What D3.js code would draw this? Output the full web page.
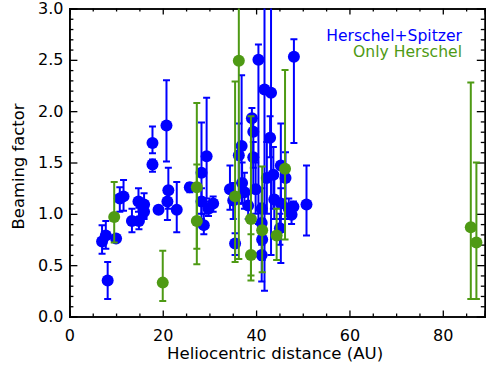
<!DOCTYPE html>
<html>
<head>
<meta charset="utf-8">
<script src="https://cdn.jsdelivr.net/npm/d3@7"></script>
<style>
  body { margin: 0; background: #fff; }
  text { font-family: "DejaVu Sans", sans-serif; }
</style>
</head>
<body>
<div id="chart"></div>
<script>
// datos: Herschel+Spitzer (blue)
const blueDist = [7.0, 7.8, 8.2, 10.0, 10.8, 11.6, 13.4, 14.9, 14.8, 16.0, 16.0, 17.8, 17.8, 19.1, 20.8, 21.2, 21.0, 23.0, 25.8, 28.3,
  29.4, 28.3, 29.8, 30.8, 28.8, 34.4, 35.5, 40.5, 41.8, 43.2, 48.1, 39.1, 39.4, 36.9, 36.3, 39.4, 43.0, 45.3, 46.3, 43.7,
  42.3, 37.0, 37.5, 39.9, 43.9, 50.8, 38.3, 48.0, 35.1, 41.2, 47.0, 47.6, 41.2, 41.3, 41.2, 45.1, 45.3]
const blueBeta = [0.73, 0.79, 0.35, 0.76, 1.15, 1.17, 0.93, 0.93, 1.12, 1.09, 1.02, 1.69, 1.48, 1.04, 1.86, 1.23, 1.12, 1.04, 1.26, 1.40,
  1.56, 1.12, 1.05, 1.10, 0.89, 1.24, 0.71, 2.50, 2.21, 2.18, 2.53, 1.93, 1.80, 1.66, 1.57, 1.55, 1.74, 1.47, 1.35, 1.38,
  1.35, 1.30, 1.21, 1.24, 1.14, 1.09, 1.08, 1.07, 1.13, 1.05, 1.05, 0.99, 0.91, 0.75, 0.60, 0.86, 1.10]
const blueLo = [0.61, 0.66, 0.17, 0.73, 1.02, 1.03, 0.82, 0.85, 1.02, 0.97, 0.95, 1.59, 1.41, 1.01, 1.51, 1.05, 0.94, 0.82, 1.21, 0.95,
  1.15, 1.00, 0.98, 1.02, 0.80, 1.04, 0.60, 0.90, 0.25, 0.60, 1.69, 1.80, 1.45, 1.10, 1.10, 1.25, 1.55, 0.52, 1.10, 1.05,
  1.00, 1.10, 1.05, 1.00, 0.95, 0.79, 0.95, 1.00, 0.95, 0.90, 0.95, 0.90, 0.70, 0.55, 0.34, 0.70, 0.95]
const blueHi = [0.89, 0.93, 0.53, 0.79, 1.26, 1.33, 1.05, 1.06, 1.25, 1.20, 1.08, 1.85, 1.53, 1.07, 2.30, 1.45, 1.25, 1.31, 1.30, 1.89,
  2.13, 1.25, 1.12, 1.17, 1.00, 1.47, 0.81, 2.65, 3.50, 3.50, 2.70, 2.03, 1.95, 2.35, 1.88, 1.70, 1.95, 1.88, 1.60, 1.65,
  1.70, 1.50, 1.40, 1.50, 1.35, 1.47, 1.20, 1.12, 1.30, 1.25, 1.15, 1.10, 1.10, 0.95, 0.85, 1.00, 1.25]

// datos: Only Herschel (green)
const greenDist = [9.6, 20.0, 27.3, 27.3, 36.3, 35.5, 38.9, 38.9, 41.3, 44.4, 46.2, 86.0, 87.2]
const greenBeta = [0.97, 0.33, 1.26, 0.93, 2.49, 1.17, 0.95, 0.60, 0.84, 0.79, 1.44, 0.87, 0.72]
const greenLo = [0.72, 0.15, 0.51, 0.66, 0.56, 0.53, 0.35, 0.40, 0.43, 0.55, 0.75, 0.17, 0.17]
const greenHi = [1.31, 0.64, 2.08, 1.48, 3.50, 2.29, 1.95, 0.80, 1.46, 1.05, 2.40, 2.28, 1.50]

const xTicks = [0, 20, 40, 60, 80]
const yTicks = [0.0, 0.5, 1.0, 1.5, 2.0, 2.5, 3.0]
const legendLabels = ["Herschel+Spitzer", "Only Herschel"]

const width = 486, height = 366
const blue = "#0000ff", green = "#4e9a14"

const svg = d3.select("#chart").append("svg")
  .attr("width", width)
  .attr("height", height)

const x = d3.scaleLinear().domain([0, 89]).range([69.4, 484.8])
const y = d3.scaleLinear().domain([0, 3]).range([316.5, 8.5])

const [x0, x1] = x.range()
const [y0, y1] = y.range()

// clip
svg.append("clipPath").attr("id", "clip")
  .append("rect")
  .attr("x", x0).attr("y", y1)
  .attr("width", x1 - x0).attr("height", y0 - y1)

// axes (IDL style, ticks inward, mirrored)
const xMinor = d3.range(0, 90, 5).filter(v => v % 20 !== 0)
const yMinor = d3.range(0, 31).map(v => v / 10).filter(v => Math.round(v * 10) % 5 !== 0)

const axBottom = svg.append("g").attr("transform", `translate(0,${y0})`)
  .call(d3.axisBottom(x).tickValues(xTicks).tickSize(-6).tickPadding(13).tickFormat(d3.format("d")))
axBottom.append("g").call(d3.axisBottom(x).tickValues(xMinor).tickSize(-3).tickFormat(""))

const axTop = svg.append("g").attr("transform", `translate(0,${y1})`)
  .call(d3.axisTop(x).tickValues(xTicks).tickSize(-6).tickFormat(""))
axTop.append("g").call(d3.axisTop(x).tickValues(xMinor).tickSize(-3).tickFormat(""))

const axLeft = svg.append("g").attr("transform", `translate(${x0},0)`)
  .call(d3.axisLeft(y).tickValues(yTicks).tickSize(-8).tickPadding(6).tickFormat(d3.format(".1f")))
axLeft.append("g").call(d3.axisLeft(y).tickValues(yMinor).tickSize(-4).tickFormat(""))

const axRight = svg.append("g").attr("transform", `translate(${x1},0)`)
  .call(d3.axisRight(y).tickValues(yTicks).tickSize(-8).tickFormat(""))
axRight.append("g").call(d3.axisRight(y).tickValues(yMinor).tickSize(-4).tickFormat(""))

svg.selectAll(".domain").attr("stroke", "#000").attr("stroke-width", 1.6)
svg.selectAll(".tick line").attr("stroke", "#000").attr("stroke-width", 1.3)
svg.selectAll(".tick text")
  .attr("font-size", 16)
  .attr("font-family", "DejaVu Sans")
  .attr("fill", "#000")

// axis titles
svg.append("text")
  .attr("x", (x0 + x1) / 2 - 2)
  .attr("y", 359)
  .attr("text-anchor", "middle")
  .attr("font-size", 16.6)
  .text("Heliocentric distance (AU)")

svg.append("text")
  .attr("transform", `translate(24,${(y0 + y1) / 2 + 4}) rotate(-90)`)
  .attr("text-anchor", "middle")
  .attr("font-size", 16.4)
  .text("Beaming factor")

// puntos con barras de error
function drawSeries(dist, beta, lo, hi, color) {
  const rows = dist.map((d, i) => ({ d: d, b: beta[i], lo: lo[i], hi: hi[i] }))
  const g = svg.append("g").attr("clip-path", "url(#clip)")
  const bars = g.selectAll("g.err").data(rows).enter().append("g")
    .attr("stroke", color).attr("stroke-width", 2)
  bars.append("line")
    .attr("x1", r => x(r.d)).attr("x2", r => x(r.d))
    .attr("y1", r => y(r.lo)).attr("y2", r => y(r.hi))
  bars.append("line")
    .attr("x1", r => x(r.d) - 3.5).attr("x2", r => x(r.d) + 3.5)
    .attr("y1", r => y(r.lo)).attr("y2", r => y(r.lo))
  bars.append("line")
    .attr("x1", r => x(r.d) - 3.5).attr("x2", r => x(r.d) + 3.5)
    .attr("y1", r => y(r.hi)).attr("y2", r => y(r.hi))
  svg.append("g").selectAll("circle").data(rows).enter().append("circle")
    .attr("cx", r => x(r.d))
    .attr("cy", r => y(r.b))
    .attr("r", 6)
    .attr("fill", color)
}

drawSeries(blueDist, blueBeta, blueLo, blueHi, blue)
drawSeries(greenDist, greenBeta, greenLo, greenHi, green)

// legend
svg.selectAll("text.legend").data(legendLabels).enter().append("text")
  .attr("class", "legend")
  .attr("x", 462)
  .attr("y", (d, i) => 41 + i * 16)
  .attr("text-anchor", "end")
  .attr("font-size", 15.6)
  .attr("fill", (d, i) => i === 0 ? blue : green)
  .text(d => d)
</script>
</body>
</html>
